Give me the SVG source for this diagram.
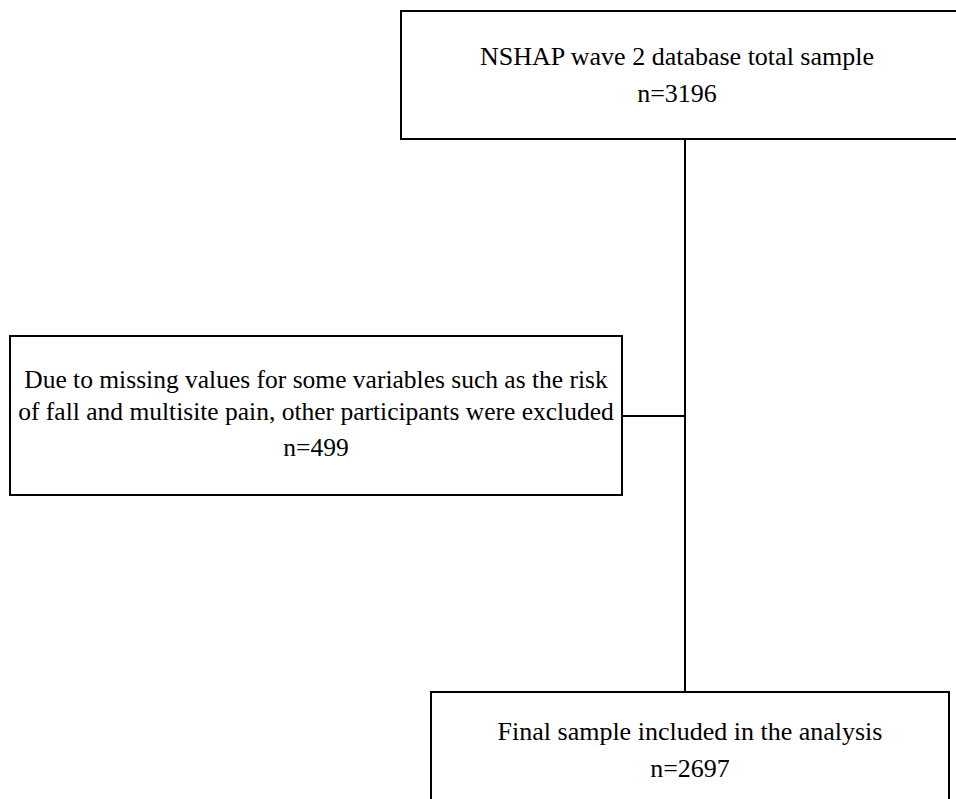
<svg xmlns="http://www.w3.org/2000/svg" width="956" height="799" viewBox="0 0 956 799">
<style>
.box{fill:#fff;stroke:#000;stroke-width:2}
.t{font-family:"Liberation Serif","Times New Roman",serif;font-size:26px;fill:#000;text-anchor:middle}
.s{font-size:25.5px}
.c{stroke:#000;stroke-width:2;fill:none}
</style>
<rect width="956" height="799" fill="#fff"/>
<g id="connectors">
<line class="c" x1="685" y1="139" x2="685" y2="692"/>
<line class="c" x1="622" y1="416" x2="685" y2="416"/>
</g>
<g id="total">
<rect class="box" x="401" y="11" width="570" height="128"/>
<text class="t" x="677" y="65">NSHAP wave 2 database total sample</text>
<text class="t" x="677" y="102">n=3196</text>
</g>
<g id="excluded">
<rect class="box" x="10" y="336" width="612" height="159"/>
<text class="t s" x="316" y="388">Due to missing values for some variables such as the risk</text>
<text class="t s" x="316" y="420">of fall and multisite pain, other participants were excluded</text>
<text class="t s" x="316" y="456">n=499</text>
</g>
<g id="final">
<rect class="box" x="431" y="692" width="518" height="130"/>
<text class="t" x="690" y="740">Final sample included in the analysis</text>
<text class="t" x="690" y="777">n=2697</text>
</g>
</svg>
